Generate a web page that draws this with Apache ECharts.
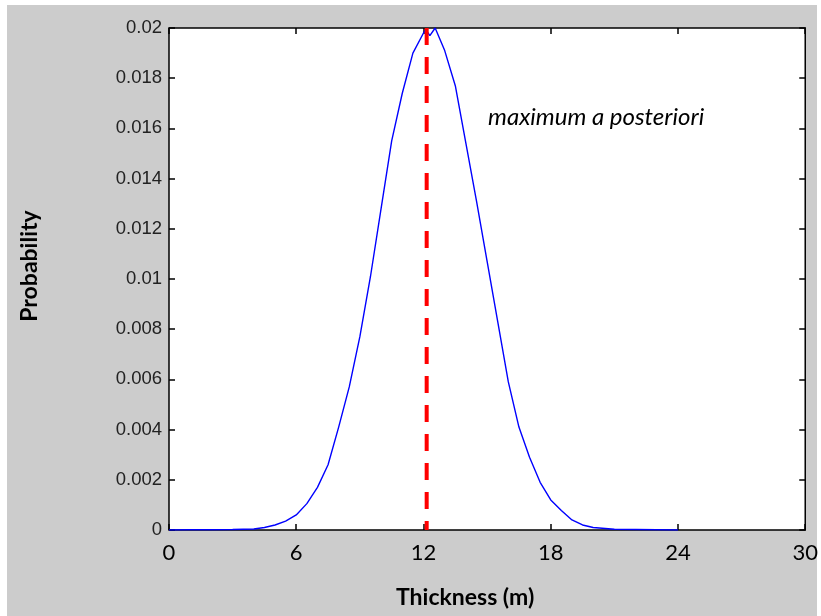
<!DOCTYPE html>
<html>
<head>
<meta charset="utf-8">
<script src="https://cdn.jsdelivr.net/npm/echarts@6/dist/echarts.min.js"></script>
<style>
  html, body { margin: 0; padding: 0; background: #fff; }
  #main { width: 821px; height: 616px; }
</style>
</head>
<body>
<div id="main"></div>
<script>
// thickness (m) and probability
var thickness = [0, 1, 2, 3, 4, 4.5, 5, 5.5, 6, 6.5, 7, 7.5, 8, 8.5, 9, 9.5, 10, 10.5, 11, 11.5,
                 12, 12.1, 12.3, 12.55, 12.8, 13, 13.5, 14, 14.5, 15, 15.5, 16, 16.5, 17, 17.5,
                 18, 18.5, 19, 19.5, 20, 21, 22, 23, 24];
var probability = [0, 0.00001, 0.00001, 0.00002, 0.00004, 0.0001, 0.0002, 0.00035, 0.0006, 0.00105,
                   0.0017, 0.0026, 0.0041, 0.0057, 0.0077, 0.0101, 0.0128, 0.0155, 0.0174, 0.019,
                   0.0198, 0.01995, 0.0197, 0.02, 0.0195, 0.0191, 0.0177, 0.0154, 0.0131, 0.0107,
                   0.0083, 0.0059, 0.0041, 0.0029, 0.0019, 0.0012, 0.00078, 0.0004, 0.0002, 0.0001,
                   0.00003, 0.00002, 0.00001, 0];
var mapThickness = 12.15;
var mapRange = [0.02, 0];
var xTicks = [0, 6, 12, 18, 24, 30];
var yTicks = [0, 0.002, 0.004, 0.006, 0.008, 0.01, 0.012, 0.014, 0.016, 0.018, 0.02];

var curve = thickness.map(function (t, i) { return [t, probability[i]]; });
var mapLine = mapRange.map(function (p) { return [mapThickness, p]; });

var chart = echarts.init(document.getElementById('main'));

var tickStyle = { show: true, inside: true, length: 6, lineStyle: { color: '#000', width: 1.5 } };
var noLine = { show: false, onZero: false };

var option = {
  backgroundColor: '#cccccc',
  animation: false,
  grid: {
    left: 169, right: 15, top: 28, bottom: 86,
    show: true, backgroundColor: '#ffffff', borderColor: '#000', borderWidth: 1.5
  },
  xAxis: [{
    type: 'value', min: xTicks[0], max: xTicks[xTicks.length - 1], interval: 6,
    position: 'bottom',
    name: 'Thickness (m)', nameLocation: 'middle', nameGap: 56,
    nameTextStyle: { fontFamily: 'Lato', fontWeight: 'bold', fontSize: 23, color: '#000', padding: [0, 44, 0, 0] },
    axisLine: noLine, axisTick: tickStyle, splitLine: { show: false },
    axisLabel: { fontFamily: 'Lato', fontSize: 22, color: '#000', margin: 12 }
  }, {
    type: 'value', min: xTicks[0], max: xTicks[xTicks.length - 1], interval: 6,
    position: 'top',
    axisLine: noLine, axisTick: tickStyle, splitLine: { show: false },
    axisLabel: { show: false }
  }],
  yAxis: [{
    type: 'value', min: yTicks[0], max: yTicks[yTicks.length - 1], interval: 0.002,
    position: 'left',
    name: 'Probability', nameLocation: 'middle', nameGap: 128,
    nameTextStyle: { fontFamily: 'Lato', fontWeight: 'bold', fontSize: 23, color: '#000', padding: [0, 0, 0, 26] },
    axisLine: noLine, axisTick: tickStyle, splitLine: { show: false },
    axisLabel: { fontFamily: 'Liberation Sans', fontSize: 18.5, color: '#222', margin: 7 }
  }, {
    type: 'value', min: yTicks[0], max: yTicks[yTicks.length - 1], interval: 0.002,
    position: 'right',
    axisLine: noLine, axisTick: tickStyle, splitLine: { show: false },
    axisLabel: { show: false }
  }],
  series: [{
    type: 'line', data: curve, showSymbol: false, smooth: false,
    lineStyle: { color: '#0000ff', width: 1.4 }
  }, {
    type: 'line', data: mapLine, showSymbol: false,
    lineStyle: { color: '#ff0000', width: 4, type: [17, 12] }
  }],
  graphic: [
    { type: 'text', left: 488, top: 105, style: { text: 'maximum a posteriori', fontFamily: 'Lato', fontStyle: 'italic', fontSize: 24, fill: '#000' } },
    { type: 'rect', left: 0, top: 0, shape: { width: 821, height: 5 }, style: { fill: '#fff' } },
    { type: 'rect', left: 0, top: 0, shape: { width: 7, height: 616 }, style: { fill: '#fff' } },
    { type: 'rect', left: 817, top: 0, shape: { width: 4, height: 616 }, style: { fill: '#fff' } }
  ]
};

chart.setOption(option);
</script>
</body>
</html>
